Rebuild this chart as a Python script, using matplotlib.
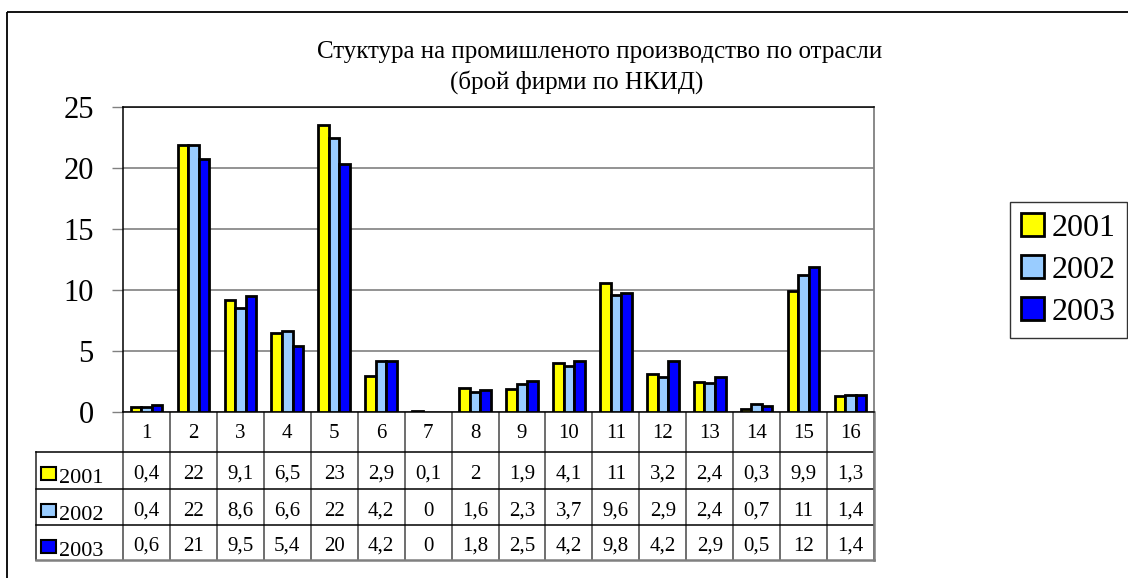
import matplotlib
matplotlib.use('Agg')
import matplotlib.pyplot as plt
import numpy as np
from matplotlib.patches import Rectangle

# data
categories = [str(i) for i in range(1, 17)]
years = ['2001', '2002', '2003']
v2001 = [0.4, 21.9, 9.15, 6.5, 23.5, 2.95, 0.1, 2.0, 1.9, 4.05, 10.55, 3.15, 2.43, 0.25, 9.92, 1.28]
v2002 = [0.4, 21.85, 8.55, 6.6, 22.5, 4.15, 0.0, 1.64, 2.3, 3.74, 9.6, 2.9, 2.4, 0.68, 11.23, 1.37]
v2003 = [0.6, 20.7, 9.5, 5.4, 20.35, 4.2, 0.0, 1.78, 2.54, 4.2, 9.75, 4.2, 2.87, 0.52, 11.86, 1.37]
t2001 = ['0,4', '22', '9,1', '6,5', '23', '2,9', '0,1', '2', '1,9', '4,1', '11', '3,2', '2,4', '0,3', '9,9', '1,3']
t2002 = ['0,4', '22', '8,6', '6,6', '22', '4,2', '0', '1,6', '2,3', '3,7', '9,6', '2,9', '2,4', '0,7', '11', '1,4']
t2003 = ['0,6', '21', '9,5', '5,4', '20', '4,2', '0', '1,8', '2,5', '4,2', '9,8', '4,2', '2,9', '0,5', '12', '1,4']
colors = ['#FFFF00', '#99CCFF', '#0000FF']
yticks = [0, 5, 10, 15, 20, 25]
title1 = 'Стуктура на промишленото производство по отрасли'
title2 = '(брой фирми по НКИД)'

plt.rcParams['font.family'] = ['Liberation Serif', 'DejaVu Serif']

W, H = 1128, 578
fig = plt.figure(figsize=(W / 100, H / 100), dpi=100)

# overlay in pixel coords for frame, title and data table
ov = fig.add_axes([0, 0, 1, 1])
ov.set_xlim(0, W)
ov.set_ylim(H, 0)
ov.axis('off')
ov.add_patch(Rectangle((7, 12), 1400, 800, fill=False, ec='black', lw=1.3))

L, R, T, B = 123, 874, 107, 412
ax = fig.add_axes([L / W, 1 - B / H, (R - L) / W, (B - T) / H])

x = np.arange(len(categories))
w = 0.225
series = [v2001, v2002, v2003]
bars = []
for k, (vals, c) in enumerate(zip(series, colors)):
    lw = [2.0 if v > 0 else 0 for v in vals]
    b = ax.bar(x + (k - 1) * w, vals, w, color=c, edgecolor='black', linewidth=lw, label=years[k], zorder=3)
    bars.append(b)

ax.set_xlim(-0.5, len(categories) - 0.5)
ax.set_ylim(0, 25)
ax.set_yticks(yticks)
ax.set_xticks([])
ax.yaxis.grid(True, color='#808080', lw=1.2)
ax.set_axisbelow(True)
ax.tick_params(axis='y', direction='out', length=8, width=1, color='#808080', pad=13, labelsize=22)
for s in ['left', 'top', 'bottom']:
    ax.spines[s].set_color('black')
    ax.spines[s].set_linewidth(1.1)
ax.spines['right'].set_color('#808080')
ax.spines['right'].set_linewidth(1.3)

# title
ov.text(600, 52, title1, ha='center', va='center', fontsize=18)
ov.text(577, 82, title2, ha='center', va='center', fontsize=18)

# legend
leg = ax.legend(handles=bars, loc='upper left', bbox_to_anchor=(1010 / W, 1 - 202 / H),
                bbox_transform=fig.transFigure, fontsize=23, frameon=True, fancybox=False,
                edgecolor='black', handlelength=0.7, handleheight=0.7, handletextpad=0.25,
                borderpad=0.35, labelspacing=0.4, borderaxespad=0)
leg.get_frame().set_linewidth(1.0)

# data table
col_w = (R - L) / len(categories)
rows = [412, 452, 489, 525, 560]
for i in range(len(categories) + 1):
    xx = L + i * col_w
    ov.plot([xx, xx], [rows[0], rows[-1]], color='#555555', lw=1.2)
ov.plot([36, 36], [rows[1], rows[-1]], color='#333333', lw=1.2)
for yy in rows[1:-1]:
    ov.plot([36, R], [yy, yy], color='black', lw=1.1)
ov.plot([36, R], [rows[-1], rows[-1]], color='#808080', lw=1.8)
ov.plot([R, R], [rows[0], rows[-1]], color='#808080', lw=1.8)

for i, c in enumerate(categories):
    ov.text(L + (i + 0.5) * col_w, 434, c, ha='center', va='center', fontsize=15)

table_rows = [t2001, t2002, t2003]
for r, (vals, yr, c) in enumerate(zip(table_rows, years, colors)):
    top = rows[r + 1]
    bot = rows[r + 2]
    cy = (top + bot) / 2 + 4
    for i, s in enumerate(vals):
        ov.text(L + (i + 0.5) * col_w, cy, s, ha='center', va='center', fontsize=15)
    ov.add_patch(Rectangle((41, top + 15), 15, 13, fc=c, ec='black', lw=1.5))
    ov.text(59, top + 31, yr, ha='left', va='baseline', fontsize=16)

fig.savefig('out.png', dpi=100)
